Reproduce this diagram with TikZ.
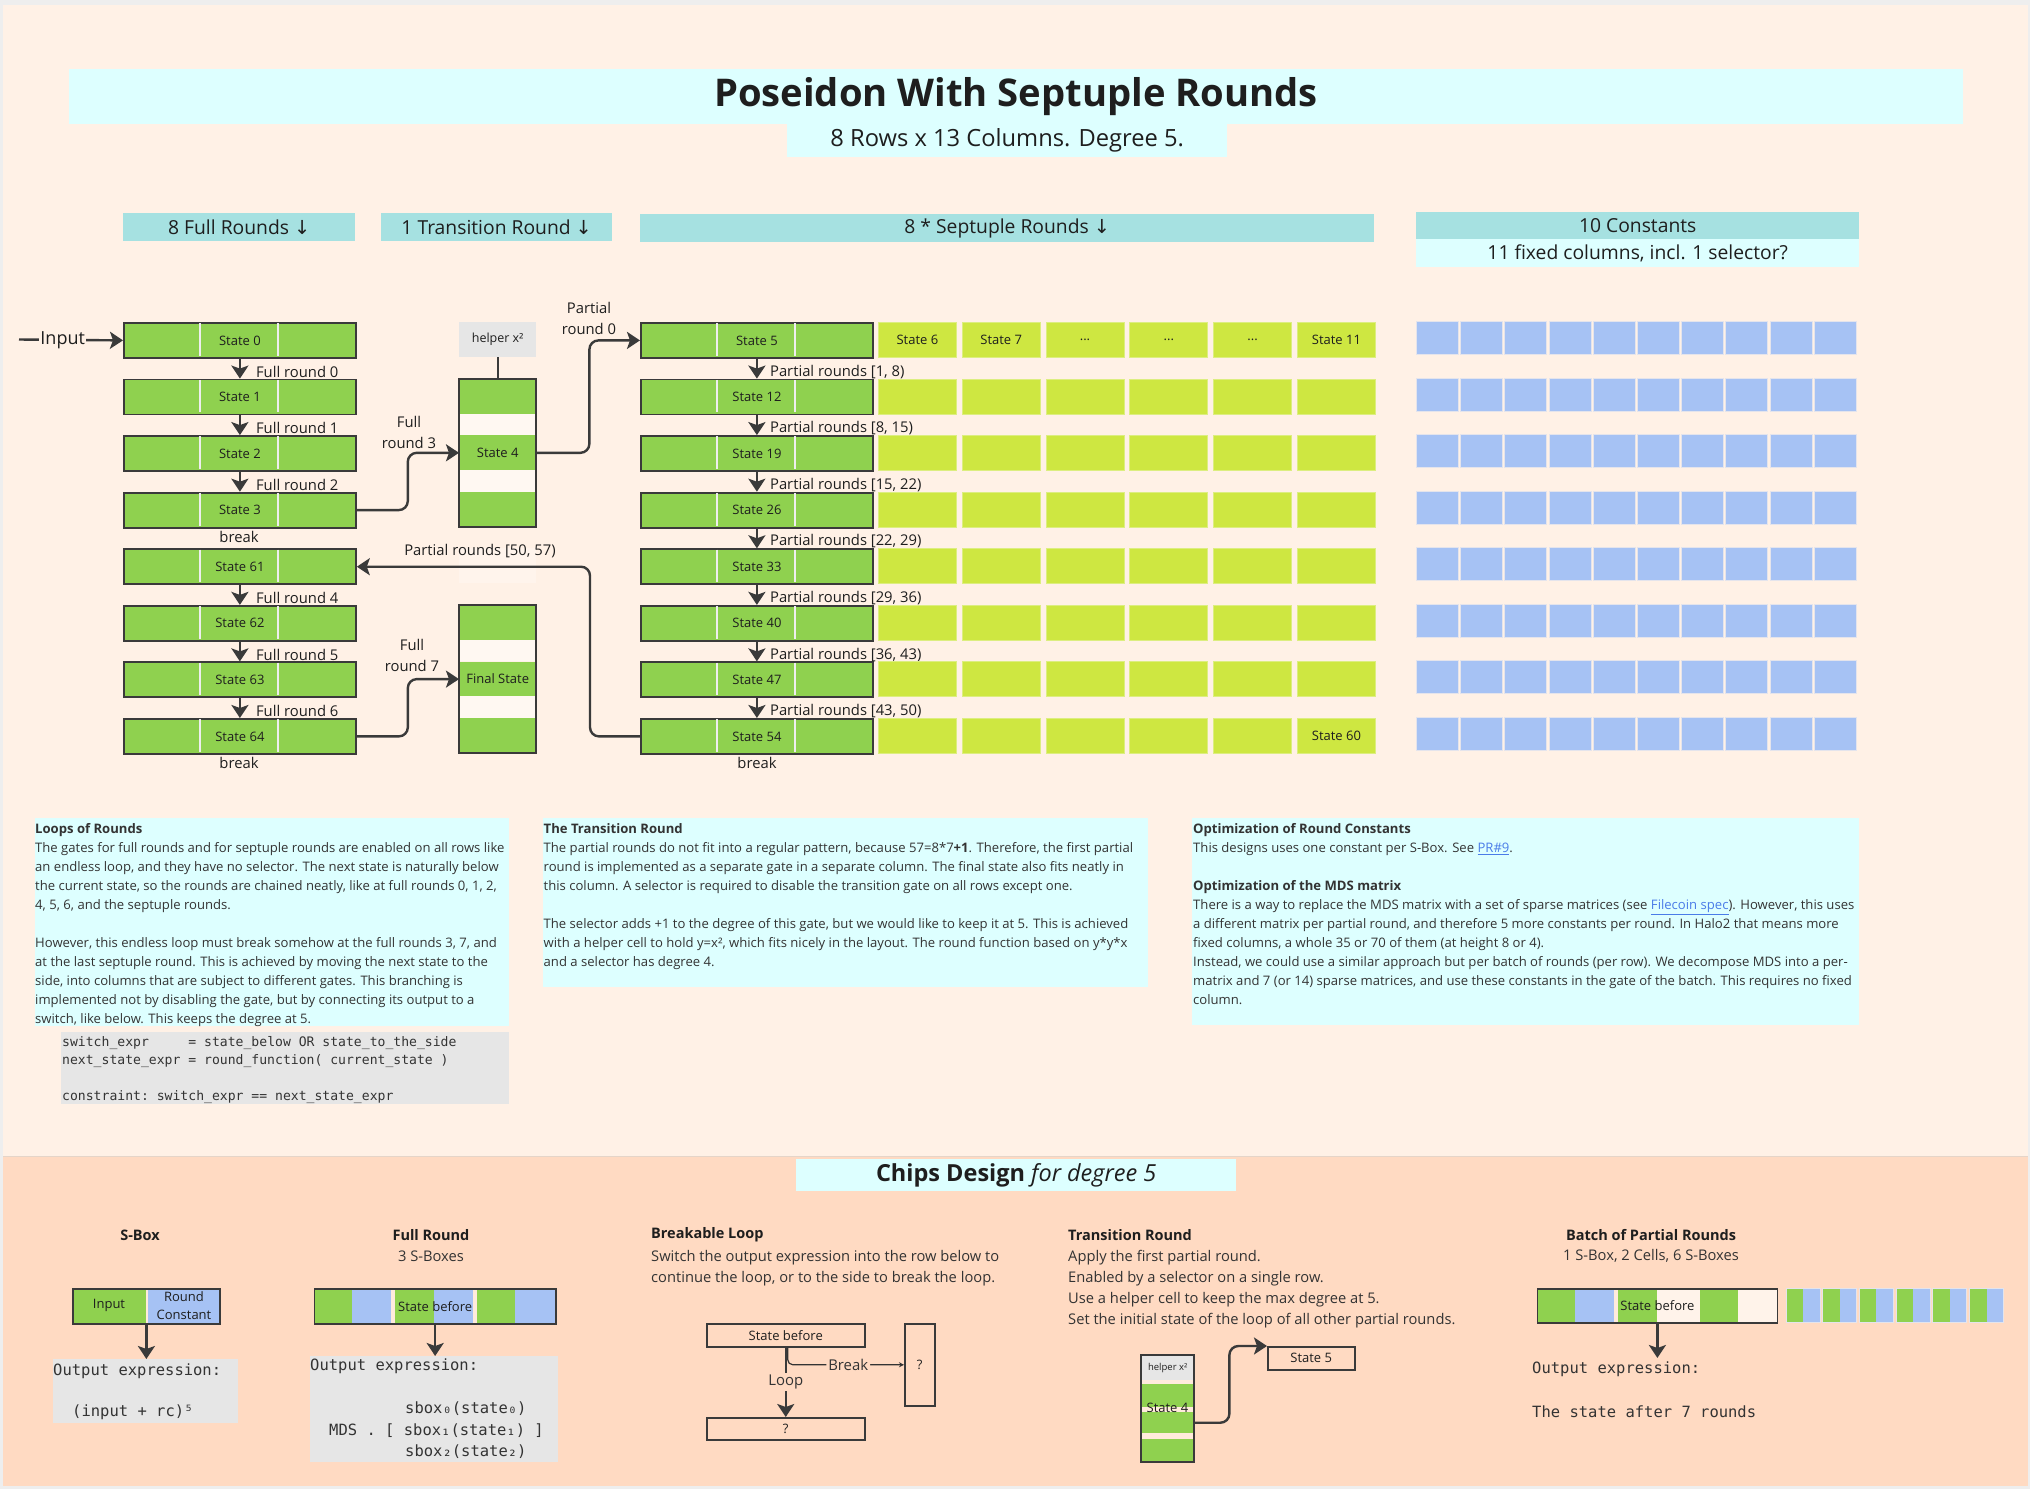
\documentclass[tikz,border=0pt]{standalone}
\usepackage{fontspec}
\setmainfont{Open Sans}
\setmonofont{DejaVu Sans Mono}
\newfontfamily\dejavu{DejaVu Sans}
\usetikzlibrary{arrows.meta,calc}
\definecolor{bgpeach}{HTML}{FFF1E6}
\definecolor{bgsalmon}{HTML}{FFDAC2}
\definecolor{bgout}{HTML}{EEEEEE}
\definecolor{cgreen}{HTML}{8FD14F}
\definecolor{cyel}{HTML}{CEE741}
\definecolor{cyelb}{HTML}{DCEE80}
\definecolor{cblue}{HTML}{A6C2F4}
\definecolor{cbord}{HTML}{E4E4EC}
\definecolor{cteal}{HTML}{A6E1E1}
\definecolor{ccyan}{HTML}{DDFFFF}
\definecolor{cgray}{HTML}{E6E6E6}
\definecolor{cdark}{HTML}{3A3A3A}
\definecolor{ctext}{HTML}{1E1E1E}
\definecolor{cbody}{HTML}{333333}
\definecolor{cgap}{HTML}{FFF8F2}
\definecolor{cgapb}{HTML}{FFEBDC}
\definecolor{ccream}{HTML}{FFF3EA}
\definecolor{cdiv}{HTML}{EEEEEE}
\definecolor{clink}{HTML}{4A7CE8}
\newcommand\fsz[2]{\fontsize{#1}{#2}\selectfont}
\newcommand\lnk[1]{\textcolor{clink}{\underline{#1}}}
\newcommand\stbox[4]{%
  \node[statebox] (#1) at (#2,#3) {};
  \draw[cdiv, line width=1.5pt] (#2+77,#3+1.2) -- (#2+77,#3+33.8) (#2+155,#3+1.2) -- (#2+155,#3+33.8);
  \node[stlbl] (#1t) at (#1.center) {#4};}
\begin{document}
\begin{tikzpicture}[x=1pt,y=-1pt,
  statebox/.style={draw=cdark, line width=1.8pt, fill=cgreen, minimum width=232pt, minimum height=35pt, inner sep=0pt, anchor=north west},
  stlbl/.style={font=\fsz{13}{15}, text=ctext, inner sep=0pt},
  ycellst/.style={fill=cyel, draw=cyelb, line width=0.8pt, minimum width=78pt, minimum height=35pt, inner sep=0pt, anchor=north west},
  bcell/.style={fill=cblue, draw=cbord, line width=0.8pt, minimum width=42pt, minimum height=33pt, inner sep=0pt, anchor=north west},
  arr/.style={draw=cdark, line width=2.4pt, -{Stealth[length=13pt,width=17pt,inset=3pt]}},
  lbl/.style={font=\fsz{14.8}{21}, text=ctext, inner sep=0pt},
  rlbl/.style={lbl, anchor=west, xshift=15pt, yshift=-3pt},
  plbl/.style={lbl, anchor=west, xshift=12pt, yshift=-3pt},
  hdr/.style={fill=cteal, inner sep=0pt, anchor=north west, minimum height=28pt, font=\fsz{19.3}{22}, text=ctext},
  body/.style={font=\fsz{13.1}{19}, text=cbody, inner sep=0pt, anchor=north west, align=left},
  cbody/.style={font=\fsz{14.7}{21}, text=cbody, inner sep=0pt, align=left},
  ctitle/.style={font=\fsz{14.5}{17}\bfseries, text=ctext, inner sep=0pt},
  mono/.style={font=\ttfamily\fsz{15.5}{19}, text=cbody, inner sep=0pt, anchor=west},
  smlbl/.style={font=\fsz{13}{16}, text=ctext, inner sep=0pt},
  thinarr/.style={draw=cbody, line width=1.2pt, -{Stealth[length=5pt,width=5pt]}}
]
% ---------- backgrounds ----------
\fill[bgout] (0,0) rectangle (2030,1489);
\useasboundingbox (0,0) rectangle (2030,1489);
\fill[bgpeach] (3,5) rectangle (2028,1156);
\fill[bgsalmon] (3,1156) rectangle (2028,1486);
\draw[cgapb!80!gray, line width=1pt] (3,1156) -- (2028,1156);

% ---------- title ----------
\node[fill=ccyan, minimum width=1894pt, minimum height=55pt, inner sep=0pt, anchor=north west] (titlebox) at (69,69) {};
\node[font=\fsz{38.2}{42}\bfseries, text=ctext, inner sep=0pt] (title) at (1016,97) {Poseidon With Septuple Rounds};
\node[fill=ccyan, minimum width=440pt, minimum height=33pt, inner sep=0pt, anchor=north west, font=\fsz{23.7}{27}, text=ctext] (subtitle) at (787,124) {8 Rows x 13 Columns. Degree 5.};

% ---------- column headers ----------
\node[hdr, minimum width=232pt] (h1) at (123,213) {8 Full Rounds {\dejavu ↓}};
\node[hdr, minimum width=231pt] (h2) at (381,213) {1 Transition Round {\dejavu ↓}};
\node[hdr, minimum width=734pt] (h3) at (640,214) {8 * Septuple Rounds {\dejavu ↓}};
\node[hdr, minimum width=443pt, minimum height=27pt] (h4) at (1416,212) {10 Constants};
\node[hdr, fill=ccyan, minimum width=443pt, minimum height=28pt] (h5) at (1416,239) {11 fixed columns, incl. 1 selector?};

% ---------- full rounds column ----------
\stbox{s0}{123}{322}{State 0}
\stbox{s1}{123}{378.6}{State 1}
\stbox{s2}{123}{435.1}{State 2}
\stbox{s3}{123}{491.7}{State 3}
\stbox{s61}{123}{548.3}{State 61}
\stbox{s62}{123}{604.9}{State 62}
\stbox{s63}{123}{661.4}{State 63}
\stbox{s64}{123}{718}{State 64}

\coordinate (inp) at (19,339.5);
\draw[arr] (inp) -- node[pos=0.42, fill=bgpeach, font=\fsz{18}{20}, text=ctext, inner sep=1.5pt] (inlbl) {Input} (s0.west);

\draw[arr] (s0.south) -- node[rlbl] (l0) {Full round 0} (s1.north);
\draw[arr] (s1.south) -- node[rlbl] (l1) {Full round 1} (s2.north);
\draw[arr] (s2.south) -- node[rlbl] (l2) {Full round 2} (s3.north);
\draw[arr] (s61.south) -- node[rlbl] (l4) {Full round 4} (s62.north);
\draw[arr] (s62.south) -- node[rlbl] (l5) {Full round 5} (s63.north);
\draw[arr] (s63.south) -- node[rlbl] (l6) {Full round 6} (s64.north);
\node[lbl] (brk1) at (239,537) {break};
\node[lbl] (brk2) at (239,763) {break};

% ---------- transition column ----------
\node[fill=cgray, minimum width=77pt, minimum height=35pt, inner sep=0pt, anchor=north west, font=\fsz{12.5}{14}, text=ctext] (hx) at (459,322) {helper x²};
\node[fill=cgreen, minimum width=77pt, minimum height=35pt, inner sep=0pt, anchor=north west] (t1) at (459,378.6) {};
\fill[cgap] (459,413.6) rectangle (536,435.1);
\node[fill=cgreen, minimum width=77pt, minimum height=35pt, inner sep=0pt, anchor=north west, font=\fsz{13}{15}, text=ctext] (s4) at (459,435.1) {State 4};
\fill[cgap] (459,470.1) rectangle (536,491.7);
\node[fill=cgreen, minimum width=77pt, minimum height=35pt, inner sep=0pt, anchor=north west] (t3) at (459,491.7) {};
\draw[cdark, line width=1.8pt] (459,378.6) rectangle (536,526.7);
\draw[cdark, line width=2pt] (hx.south) -- (t1.north);

\fill[white, opacity=0.25] (459,548.3) rectangle (536,583.3);

\node[fill=cgreen, minimum width=77pt, minimum height=35pt, inner sep=0pt, anchor=north west] (t5) at (459,604.9) {};
\fill[cgap] (459,639.9) rectangle (536,661.4);
\node[fill=cgreen, minimum width=77pt, minimum height=35pt, inner sep=0pt, anchor=north west, font=\fsz{13}{15}, text=ctext] (fs) at (459,661.4) {Final State};
\fill[cgap] (459,696.4) rectangle (536,718);
\node[fill=cgreen, minimum width=77pt, minimum height=35pt, inner sep=0pt, anchor=north west] (t7) at (459,718) {};
\draw[cdark, line width=1.8pt] (459,604.9) rectangle (536,753);

% ---------- septuple column ----------
\stbox{s5}{640}{322}{State 5}
\stbox{s12}{640}{378.6}{State 12}
\stbox{s19}{640}{435.1}{State 19}
\stbox{s26}{640}{491.7}{State 26}
\stbox{s33}{640}{548.3}{State 33}
\stbox{s40}{640}{604.9}{State 40}
\stbox{s47}{640}{661.4}{State 47}
\stbox{s54}{640}{718}{State 54}
\draw[arr] (s5.south) -- node[plbl] (p1) {Partial rounds [1, 8)} (s12.north);
\draw[arr] (s12.south) -- node[plbl] (p2) {Partial rounds [8, 15)} (s19.north);
\draw[arr] (s19.south) -- node[plbl] (p3) {Partial rounds [15, 22)} (s26.north);
\draw[arr] (s26.south) -- node[plbl] (p4) {Partial rounds [22, 29)} (s33.north);
\draw[arr] (s33.south) -- node[plbl] (p5) {Partial rounds [29, 36)} (s40.north);
\draw[arr] (s40.south) -- node[plbl] (p6) {Partial rounds [36, 43)} (s47.north);
\draw[arr] (s47.south) -- node[plbl] (p7) {Partial rounds [43, 50)} (s54.north);
\node[lbl] (brk3) at (757,763) {break};

\foreach \r/\ry in {0/322,1/378.6,2/435.1,3/491.7,4/548.3,5/604.9,6/661.4,7/718}{
  \foreach \c in {0,...,5}{
    \node[ycellst] (y\r-\c) at ({878+83.8*\c},\ry) {};
  }
}
\node[stlbl] (y0t0) at (y0-0) {State 6};
\node[stlbl] (y0t1) at (y0-1) {State 7};
\node[stlbl] (y0t2) at (y0-2) {...};
\node[stlbl] (y0t3) at (y0-3) {...};
\node[stlbl] (y0t4) at (y0-4) {...};
\node[stlbl] (y0t5) at (y0-5) {State 11};
\node[stlbl] (y7t5) at (y7-5) {State 60};

% ---------- constants grid ----------
\foreach \r/\ry in {0/321,1/377.6,2/434.1,3/490.7,4/547.3,5/603.9,6/660.4,7/717}{
  \foreach \c in {0,...,9}{
    \node[bcell] (b\r-\c) at ({1416+44.2*\c},\ry) {};
  }
}

% ---------- connectors between columns ----------
\draw[arr, rounded corners=9pt] (s3.east) -- ++(51,0) |- (s4.west);
\node[lbl, align=center] (lfr3) at (409,432) {Full\\round 3};
\draw[arr, rounded corners=9pt] (s4.east) -- ++(53,0) |- (s5.west);
\node[lbl, align=center] (lpr0) at (589,318) {Partial\\round 0};
\draw[arr, rounded corners=9pt] (s64.east) -- ++(51,0) |- (fs.west);
\node[lbl, align=center] (lfr7) at (412,655) {Full\\round 7};
\draw[arr, rounded corners=9pt] (s54.west) -- ++(-50,0) |- (s61.east);
\node[lbl] (lpr50) at (480,551) {Partial rounds [50, 57)};

% ---------- text blocks ----------
\fill[ccyan] (35,818) rectangle (509,1026);
\node[body] (tloops) at (35,823) {\textbf{Loops of Rounds}\\
The gates for full rounds and for septuple rounds are enabled on all rows like\\
an endless loop, and they have no selector. The next state is naturally below\\
the current state, so the rounds are chained neatly, like at full rounds 0, 1, 2,\\
4, 5, 6, and the septuple rounds.\\[19pt]
However, this endless loop must break somehow at the full rounds 3, 7, and\\
at the last septuple round. This is achieved by moving the next state to the\\
side, into columns that are subject to different gates. This branching is\\
implemented not by disabling the gate, but by connecting its output to a\\
switch, like below. This keeps the degree at 5.};
\fill[cgray] (61,1032) rectangle (509,1104);
\node[font=\ttfamily\fsz{13.1}{18}, text=cbody, inner sep=0pt, anchor=north west, align=left] (tcode) at (62,1036) {switch\_expr\ \ \ \ \ = state\_below OR state\_to\_the\_side\\
next\_state\_expr = round\_function( current\_state )\\[18pt]
constraint: switch\_expr == next\_state\_expr};

\fill[ccyan] (543,818) rectangle (1148,987);
\node[body] (ttrans) at (543.5,823) {\textbf{The Transition Round}\\
The partial rounds do not fit into a regular pattern, because 57=8*7\textbf{+1}. Therefore, the first partial\\
round is implemented as a separate gate in a separate column. The final state also fits neatly in\\
this column. A selector is required to disable the transition gate on all rows except one.\\[19pt]
The selector adds +1 to the degree of this gate, but we would like to keep it at 5. This is achieved\\
with a helper cell to hold y=x², which fits nicely in the layout. The round function based on y*y*x\\
and a selector has degree 4.};

\fill[ccyan] (1192,818) rectangle (1859,1025);
\node[body] (topt) at (1193,823) {\textbf{Optimization of Round Constants}\\
This designs uses one constant per S-Box. See \lnk{PR\#9}.\\[19pt]
\textbf{Optimization of the MDS matrix}\\
There is a way to replace the MDS matrix with a set of sparse matrices (see \lnk{Filecoin spec}). However, this uses\\
a different matrix per partial round, and therefore 5 more constants per round. In Halo2 that means more\\
fixed columns, a whole 35 or 70 of them (at height 8 or 4).\\
Instead, we could use a similar approach but per batch of rounds (per row). We decompose MDS into a per-\\
matrix and 7 (or 14) sparse matrices, and use these constants in the gate of the batch. This requires no fixed\\
column.};

% ---------- chips design ----------
\node[fill=ccyan, minimum width=440pt, minimum height=32pt, inner sep=0pt, anchor=north west, font=\fsz{23.5}{27}, text=ctext] (chips) at (796,1159) {\textbf{Chips Design} \textit{for degree 5}};

% S-Box
\node[ctitle] (tsbox) at (140,1235) {S-Box};
\fill[cgreen] (72,1288) rectangle (146,1323);
\fill[cgapb] (146,1288) rectangle (148,1323);
\fill[cblue] (148,1288) rectangle (219,1323);
\node[draw=cdark, line width=1.8pt, minimum width=147pt, minimum height=35pt, inner sep=0pt, anchor=north west] (sbbar) at (72,1288) {};
\node[smlbl] (sbin) at (109,1305.5) {Input};
\node[smlbl, align=center, font=\fsz{13}{18}] (sbrc) at (184,1306) {Round\\Constant};
\node[fill=cgray, minimum width=185pt, minimum height=64pt, inner sep=0pt, anchor=north west] (sbout) at (53,1359) {};
\draw[arr] (sbbar.south) -- (sbout.north -| sbbar.south);
\node[mono] (sbt1) at (53,1371) {Output expression:};
\node[mono] (sbt2) at (72,1412) {(input + rc)⁵};

% Full Round
\node[ctitle] (tfr) at (431,1235) {Full Round};
\node[cbody] (tfr2) at (431,1256) {3 S-Boxes};
\fill[cgreen] (314,1288) rectangle (352,1323);
\fill[cblue] (352,1288) rectangle (391,1323);
\fill[cgapb] (391,1288) rectangle (395,1323);
\fill[cgreen] (395,1288) rectangle (434,1323);
\fill[cblue] (434,1288) rectangle (473,1323);
\fill[cgapb] (473,1288) rectangle (476.5,1323);
\fill[cgreen] (476.5,1288) rectangle (515,1323);
\fill[cblue] (515,1288) rectangle (555,1323);
\node[draw=cdark, line width=1.8pt, minimum width=241.5pt, minimum height=35pt, inner sep=0pt, anchor=north west] (frbar) at (313.5,1288) {};
\node[smlbl] (frsb) at (frbar.center) {State before};
\node[fill=cgray, minimum width=248.4pt, minimum height=106pt, inner sep=0pt, anchor=north west] (frout) at (309.6,1356) {};
\draw[arr] (frbar.south) -- (frout.north -| frbar.south);
\node[mono] (frt1) at (310,1366) {Output expression:};
\node[mono] (frt2) at (405,1409) {sbox₀(state₀)};
\node[mono] (frt3) at (329,1431) {MDS . [ sbox₁(state₁) ]};
\node[mono] (frt4) at (405,1452) {sbox₂(state₂)};

% Breakable Loop
\node[ctitle, anchor=west] (tbl) at (651,1235) {Breakable Loop};
\node[cbody, anchor=north west] (tbl2) at (651,1250.5) {Switch the output expression into the row below to\\continue the loop, or to the side to break the loop.};
\node[draw=cdark, line width=1.5pt, minimum width=158pt, minimum height=23pt, inner sep=0pt, anchor=north west, font=\fsz{13}{15}, text=ctext] (blsb) at (706,1323) {State before};
\node[draw=cdark, line width=1.5pt, minimum width=158pt, minimum height=22pt, inner sep=0pt, anchor=north west, font=\fsz{13}{15}, text=ctext] (blq) at (706,1417) {?};
\node[draw=cdark, line width=1.5pt, minimum width=30pt, minimum height=82pt, inner sep=0pt, anchor=north west, font=\fsz{13}{15}, text=ctext] (blr) at (904,1323) {?};
\draw[arr] (blsb.south) -- node[pos=0.5, fill=bgsalmon, font=\fsz{14.9}{17}, text=cbody, inner sep=2pt] (blloop) {Loop} (blq.north);
\draw[thinarr, rounded corners=5pt] ($(blsb.south)+(2,0)$) |- node[pos=0.76, fill=bgsalmon, font=\fsz{14.9}{17}, text=cbody, inner sep=2pt] (blbreak) {Break} (blr.west);

% Transition Round
\node[ctitle, anchor=west] (ttr) at (1068,1235) {Transition Round};
\node[cbody, anchor=north west] (ttr2) at (1068,1250.5) {Apply the first partial round.\\Enabled by a selector on a single row.\\Use a helper cell to keep the max degree at 5.\\Set the initial state of the loop of all other partial rounds.};
\node[fill=cgray, minimum width=53pt, minimum height=25pt, inner sep=0pt, anchor=north west, font=\fsz{9.5}{11}, text=ctext] (trhx) at (1141,1355) {helper x²};
\fill[cgapb] (1141,1380) rectangle (1194,1384);
\fill[cgreen] (1141,1384) rectangle (1194,1407);
\fill[cgapb] (1141,1407) rectangle (1194,1412);
\node[fill=cgreen, minimum width=53pt, minimum height=21pt, inner sep=0pt, anchor=north west] (trs4) at (1141,1412) {};
\fill[cgapb] (1141,1433) rectangle (1194,1439);
\fill[cgreen] (1141,1439) rectangle (1194,1462);
\draw[cdark, line width=1.8pt] (1141,1355) rectangle (1194,1462);
\node[smlbl] (trs4t) at (1167.5,1408) {State 4};
\node[draw=cdark, line width=1.5pt, minimum width=87pt, minimum height=23pt, inner sep=0pt, anchor=north west, font=\fsz{13}{15}, text=ctext] (trs5) at (1267,1346) {State 5};
\draw[arr, rounded corners=9pt] (trs4.east) -- ++(35,0) |- (trs5.north west);

% Batch of Partial Rounds
\node[ctitle] (tbp) at (1651,1235) {Batch of Partial Rounds};
\node[cbody] (tbp2) at (1651,1256) {1 S-Box, 2 Cells, 6 S-Boxes};
\fill[cgreen] (1536.5,1288) rectangle (1575,1322);
\fill[cblue] (1575,1288) rectangle (1613.6,1322);
\fill[cgapb] (1613.6,1288) rectangle (1617.6,1322);
\fill[cgreen] (1617.6,1288) rectangle (1656.5,1322);
\fill[ccream] (1656.5,1288) rectangle (1699.5,1322);
\fill[cgreen] (1699.5,1288) rectangle (1738,1322);
\fill[ccream] (1738,1288) rectangle (1776.5,1322);
\node[draw=cdark, line width=1.8pt, minimum width=240pt, minimum height=34pt, inner sep=0pt, anchor=north west] (bpbar) at (1536.5,1288) {};
\node[smlbl] (bpsb) at (bpbar.center) {State before};
\foreach \k in {0,...,5}{
  \fill[cgreen] ({1786+36.7*\k},1288) rectangle ({1803+36.7*\k},1322);
  \fill[cblue] ({1803+36.7*\k},1288) rectangle ({1820+36.7*\k},1322);
  \draw[cbord, line width=0.8pt] ({1786+36.7*\k},1288) rectangle ({1820+36.7*\k},1322);
}
\node[mono] (bpt1) at (1532,1369) {Output expression:};
\node[mono] (bpt2) at (1532,1412) {The state after 7 rounds};
\draw[arr] (bpbar.south) -- (bpbar.south |- 0,1358);
\end{tikzpicture}
\end{document}
